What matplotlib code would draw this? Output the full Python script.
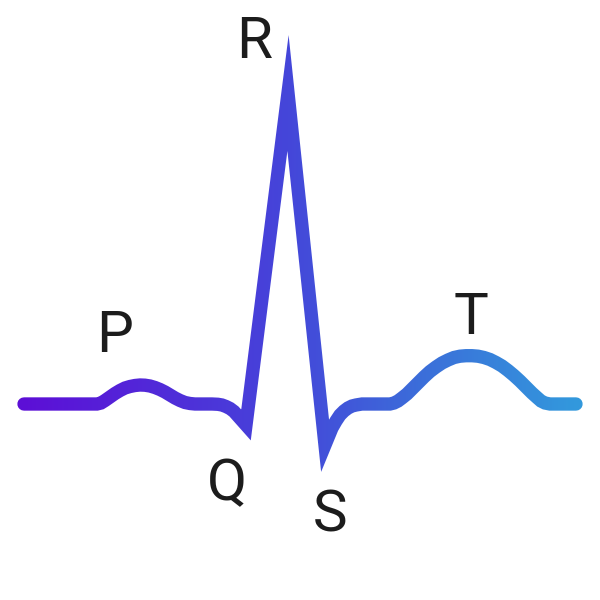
import matplotlib
matplotlib.use("Agg")
import matplotlib.pyplot as plt
from matplotlib.colors import LinearSegmentedColormap
from matplotlib.transforms import Bbox

# ECG trace: horizontal position and amplitude above the baseline
trace_x = [24, 97, 101, 105, 110, 115, 120, 125, 130, 135, 140, 145, 150, 155,
           160, 165, 170, 175, 180, 185, 190, 195,
           212, 218, 222, 226, 230, 234, 238, 246, 288, 325,
           332, 336, 340, 344, 348, 352, 356, 362, 390,
           394, 398, 402, 407, 412, 418, 424, 430, 436, 442, 448, 454, 460, 466,
           472, 478, 484, 490, 496, 502, 508, 514, 520, 526, 532, 537, 541, 545,
           550, 576]
trace_amp = [0, 0, 1, 3.5, 7, 10.5, 13.5, 16, 17.5, 18.5, 19, 18.8, 18, 16.5,
             14.5, 12, 9, 6, 3.5, 1.5, 0.5, 0,
             0, -0.3, -1, -2.5, -4.5, -7.5, -12, -21, 311, -41,
             -24, -17, -11, -7, -4, -2, -1, 0, 0,
             1, 3, 6, 10, 15, 21, 27, 32.5, 37, 41, 44, 46.5, 47.8, 48.3,
             48.3, 47.8, 46.5, 44.5, 41.5, 38, 33.5, 28.5, 23, 17, 11, 6.5, 3, 1,
             0, 0]

# wave labels
wave_names = ["P", "Q", "R", "S", "T"]
wave_x = [115, 227, 254, 330, 471]
wave_amp = [52, -96, 346, -128, 70]

grad_colors = [(0.0, "#5c0fd6"), (0.21, "#5226d8"), (0.48, "#4446d9"),
               (0.75, "#3a72d9"), (1.0, "#3298dc")]
cmap = LinearSegmentedColormap.from_list("ecg", grad_colors)

W, H = 600, 600
fig = plt.figure(figsize=(6, 6), dpi=100)
ax = fig.add_axes([0, 0, 1, 1])
ax.set_xlim(0, W)
ax.set_ylim(404 - H, 404)
ax.axis("off")

# gradient along x: draw the full trace once per 2px strip, clipped to the strip
x_lo, x_hi = min(trace_x), max(trace_x)
for px in range(10, 592, 2):
    frac = min(max((px + 1.0 - x_lo) / (x_hi - x_lo), 0.0), 1.0)
    line, = ax.plot(trace_x, trace_amp, color=cmap(float(frac)), lw=9.6,
                    solid_capstyle="round", solid_joinstyle="miter")
    line.set_clip_box(Bbox([[px, 0], [px + 2, H]]))

for name, x, a in zip(wave_names, wave_x, wave_amp):
    ax.text(x, a, name, ha="center", va="baseline", fontsize=42,
            family="Roboto", color="#1c1c1c")

fig.savefig("out.png", dpi=100, facecolor="white")
